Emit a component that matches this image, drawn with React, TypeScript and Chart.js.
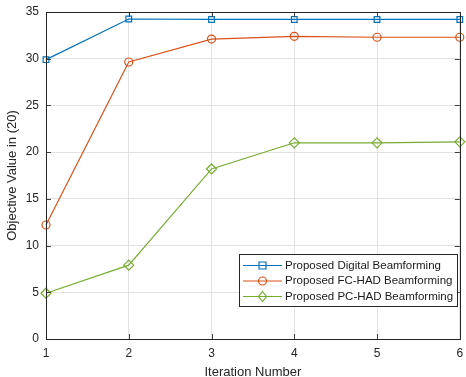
import React, { useEffect, useRef } from "react";
import { Chart, registerables } from "chart.js";

Chart.register(...registerables);

const iterations = [1, 2, 3, 4, 5, 6];
const digitalBF = [29.9, 34.25, 34.2, 34.2, 34.2, 34.2];
const fcHadBF = [12.2, 29.65, 32.1, 32.4, 32.3, 32.3];
const pcHadBF = [4.9, 7.9, 18.2, 21.0, 21.0, 21.1];
const seriesNames = [
  "Proposed Digital Beamforming",
  "Proposed FC-HAD Beamforming",
  "Proposed PC-HAD Beamforming",
];
const seriesColors = ["#0072BD", "#D95319", "#77AC30"];
const seriesMarkers = ["rect", "circle", "rectRot"];
const yTicks = [0, 5, 10, 15, 20, 25, 30, 35];

const FONT = "'Liberation Sans', Arial, Helvetica, sans-serif";
const AXIS = "#404040";

function drawMarker(ctx: CanvasRenderingContext2D, kind: string, x: number, y: number, color: string) {
  ctx.save();
  ctx.strokeStyle = color;
  ctx.lineWidth = 1.2;
  ctx.beginPath();
  if (kind === "rect") {
    ctx.rect(x - 3.5, y - 3.5, 7, 7);
  } else if (kind === "circle") {
    ctx.arc(x, y, 4, 0, Math.PI * 2);
  } else {
    ctx.moveTo(x, y - 5);
    ctx.lineTo(x + 4, y);
    ctx.lineTo(x, y + 5);
    ctx.lineTo(x - 4, y);
    ctx.closePath();
  }
  ctx.stroke();
  ctx.restore();
}

const boxPlugin = {
  id: "matlabBox",
  afterDraw(chart: any) {
    const ctx = chart.ctx as CanvasRenderingContext2D;
    const { left, right, top, bottom } = chart.chartArea;
    const xs = chart.scales.x;
    const ys = chart.scales.y;
    ctx.save();
    ctx.strokeStyle = AXIS;
    ctx.lineWidth = 1;
    ctx.beginPath();
    iterations.forEach((v) => {
      const px = Math.round(xs.getPixelForValue(v)) + 0.5;
      ctx.moveTo(px, bottom);
      ctx.lineTo(px, bottom - 5);
      ctx.moveTo(px, top);
      ctx.lineTo(px, top + 5);
    });
    yTicks.forEach((v) => {
      const py = Math.round(ys.getPixelForValue(v)) + 0.5;
      ctx.moveTo(left, py);
      ctx.lineTo(left + 5, py);
      ctx.moveTo(right, py);
      ctx.lineTo(right - 5, py);
    });
    ctx.stroke();
    ctx.strokeStyle = "#262626";
    ctx.strokeRect(Math.round(left) + 0.5, Math.round(top) + 0.5, Math.round(right - left), Math.round(bottom - top));

    // legend
    const lx = 239.5, ly = 254.5, lw = 218, lh = 52;
    ctx.fillStyle = "#ffffff";
    ctx.fillRect(lx, ly, lw, lh);
    ctx.strokeStyle = "#262626";
    ctx.lineWidth = 1;
    ctx.strokeRect(lx, ly, lw, lh);
    ctx.font = `11.5px ${FONT}`;
    ctx.textBaseline = "middle";
    ctx.textAlign = "left";
    const rows = [265, 280.5, 296];
    seriesNames.forEach((name, i) => {
      const yy = rows[i];
      ctx.strokeStyle = seriesColors[i];
      ctx.lineWidth = 1.2;
      ctx.beginPath();
      ctx.moveTo(243, yy + 0.5);
      ctx.lineTo(282, yy + 0.5);
      ctx.stroke();
      drawMarker(ctx, seriesMarkers[i], 262.5, yy + 0.5, seriesColors[i]);
      ctx.fillStyle = "#1a1a1a";
      ctx.fillText(name, 285, yy + 0.5);
    });
    ctx.restore();
  },
};

export default function App() {
  const ref = useRef<HTMLCanvasElement | null>(null);
  useEffect(() => {
    document.body.style.margin = "0";
    const data = [digitalBF, fcHadBF, pcHadBF];
    const chart = new Chart(ref.current as HTMLCanvasElement, {
      type: "line",
      data: {
        labels: iterations,
        datasets: data.map((d, i) => ({
          label: seriesNames[i],
          data: d.map((v, j) => ({ x: iterations[j], y: v })),
          borderColor: seriesColors[i],
          backgroundColor: "transparent",
          borderWidth: 1.2,
          pointStyle: seriesMarkers[i] as any,
          pointRadius: i === 2 ? 5 : 4,
          pointBorderWidth: 1.2,
          pointBorderColor: seriesColors[i],
          pointBackgroundColor: "transparent",
          tension: 0,
          clip: false as any,
        })),
      },
      options: {
        responsive: false,
        animation: false,
        layout: { padding: { top: 12, right: 5, left: 0, bottom: 0 } },
        plugins: { legend: { display: false }, tooltip: { enabled: false } },
        scales: {
          x: {
            type: "linear",
            min: 1,
            max: 6,
            afterFit: (s: any) => { s.height = 38; s.paddingLeft = 0; s.paddingRight = 0; },
            afterBuildTicks: (s: any) => { s.ticks = iterations.map((v) => ({ value: v })); },
            grid: { color: "#e3e3e3", drawTicks: false, lineWidth: 1 },
            border: { display: false },
            ticks: { color: "#262626", font: { family: FONT, size: 12 }, padding: 7, maxRotation: 0 },
            title: { display: true, text: "Iteration Number", color: "#262626", font: { family: FONT, size: 13 }, padding: { top: 3, bottom: -3 } },
          },
          y: {
            min: 0,
            max: 35,
            afterFit: (s: any) => { s.width = 46; s.paddingTop = 0; s.paddingBottom = 0; },
            afterBuildTicks: (s: any) => { s.ticks = yTicks.map((v) => ({ value: v })); },
            grid: { color: "#e3e3e3", drawTicks: false, lineWidth: 1 },
            border: { display: false },
            ticks: { color: "#262626", font: { family: FONT, size: 12 }, padding: 7 },
            title: { display: true, text: "Objective Value in (20)", color: "#262626", font: { family: FONT, size: 13 }, padding: { top: 5, bottom: 6 } },
          },
        },
      } as any,
      plugins: [boxPlugin],
    });
    return () => chart.destroy();
  }, []);
  return (
    <div style={{ position: "absolute", left: 0, top: 0, width: 466, height: 377, background: "#fff" }}>
      <canvas ref={ref} width={466} height={377} style={{ width: 466, height: 377, display: "block" }} />
    </div>
  );
}
